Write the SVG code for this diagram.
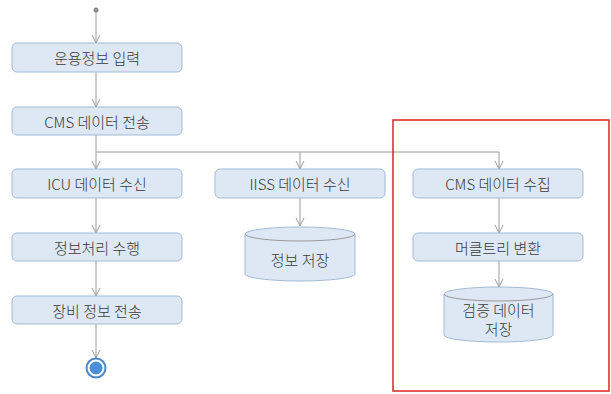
<svg xmlns="http://www.w3.org/2000/svg" width="611" height="394" viewBox="0 0 611 394">
<style>
.box{fill:#dde8f4;stroke:#a3bbd6;stroke-width:1}
.cyl{fill:#dde8f4;stroke:#a3bbd6;stroke-width:1}
.t{font-family:"Noto Sans CJK KR","Noto Sans",sans-serif;font-size:15px;font-weight:300;fill:#3a3a3a;text-anchor:middle;dominant-baseline:central}
.c{fill:none;stroke:#9a9a9a;stroke-width:1}
</style>
<defs>
<marker id="ah" viewBox="0 0 10 10" refX="9" refY="5" markerWidth="10" markerHeight="10" markerUnits="userSpaceOnUse" orient="auto">
<path d="M1,1 L9,5 L1,9" fill="none" stroke="#9a9a9a" stroke-width="1"/>
</marker>
</defs>
<rect width="611" height="394" fill="#fff"/>
<g id="connectors">
<circle cx="96" cy="10" r="2.5" fill="#8a8a8a"/>
<path class="c" d="M96,10 V43" marker-end="url(#ah)"/>
<path class="c" d="M96,72 V107" marker-end="url(#ah)"/>
<path class="c" d="M96,135 V169" marker-end="url(#ah)"/>
<path class="c" d="M96,152 H499 V169" marker-end="url(#ah)"/>
<path class="c" d="M300,152 V169" marker-end="url(#ah)"/>
<path class="c" d="M96,198 V233" marker-end="url(#ah)"/>
<path class="c" d="M96,261 V296" marker-end="url(#ah)"/>
<path class="c" d="M96,324 V358" marker-end="url(#ah)"/>
<path class="c" d="M300,198 V226" marker-end="url(#ah)"/>
<path class="c" d="M499,198 V233" marker-end="url(#ah)"/>
<path class="c" d="M499,261 V287" marker-end="url(#ah)"/>
</g>
<g id="n1"><rect class="box" x="12" y="43" width="170" height="29" rx="5"/><text class="t" x="97" y="57.5">운용정보 입력</text></g>
<g id="n2"><rect class="box" x="12" y="107" width="170" height="28" rx="5"/><text class="t" x="97" y="121">CMS 데이터 전송</text></g>
<g id="n3"><rect class="box" x="12" y="169" width="170" height="29" rx="5"/><text class="t" x="97" y="183.5">ICU 데이터 수신</text></g>
<g id="n4"><rect class="box" x="12" y="233" width="170" height="28" rx="5"/><text class="t" x="97" y="247">정보처리 수행</text></g>
<g id="n5"><rect class="box" x="12" y="296" width="170" height="28" rx="5"/><text class="t" x="97" y="310">장비 정보 전송</text></g>
<g id="end"><circle cx="96" cy="368" r="9.5" fill="#fff" stroke="#4a86c8" stroke-width="2"/><circle cx="96" cy="368" r="6.5" fill="#4a90d9"/></g>
<g id="n6"><rect class="box" x="215" y="169" width="170" height="29" rx="5"/><text class="t" x="300" y="183.5">IISS 데이터 수신</text></g>
<g id="n7"><path class="cyl" d="M245,234 A55,7 0 0 1 355,234 V274 A55,7 0 0 1 245,274 Z"/><path class="c" d="M245,234 A55,7 0 0 0 355,234" stroke="#a3bbd6"/><text class="t" x="300" y="259">정보 저장</text></g>
<g id="n8"><rect class="box" x="413" y="169" width="170" height="29" rx="5"/><text class="t" x="498" y="183.5">CMS 데이터 수집</text></g>
<g id="n9"><rect class="box" x="413" y="233" width="170" height="28" rx="5"/><text class="t" x="498" y="247">머클트리 변환</text></g>
<g id="n10"><path class="cyl" d="M444,294 A54.5,7 0 0 1 553,294 V335 A54.5,7 0 0 1 444,335 Z"/><path class="c" d="M444,294 A54.5,7 0 0 0 553,294" stroke="#a3bbd6"/><text class="t" x="498.5" y="309">검증 데이터</text><text class="t" x="498.5" y="328.5">저장</text></g>
<rect id="highlight" x="393" y="120" width="216" height="271" fill="none" stroke="#e02020" stroke-width="1.5"/>
</svg>
